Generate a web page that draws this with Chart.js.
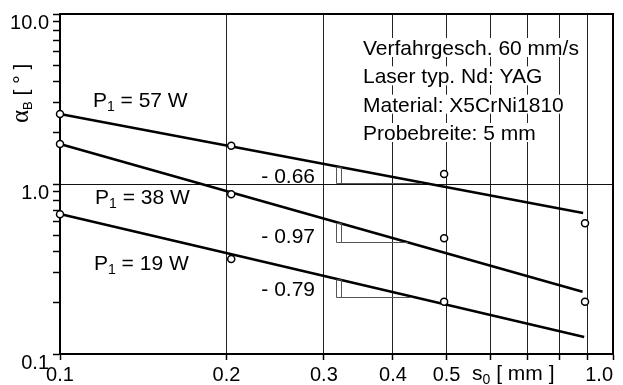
<!DOCTYPE html>
<html><head><meta charset="utf-8">
<script src="https://cdn.jsdelivr.net/npm/chart.js@4/dist/chart.umd.min.js"></script>
<style>html,body{margin:0;padding:0;background:#fff}canvas{display:block}</style>
</head><body>
<canvas id="c" width="623" height="385" style="width:623px;height:385px"></canvas>
<script>
// ---------------- data ----------------
const measX = [0.1, 0.204, 0.495, 0.89];          // s0 [mm]
const values57 = [2.58, 1.68, 1.145, 0.587];       // alpha_B [deg], P1 = 57 W
const values38 = [1.72, 0.87, 0.479, 0.203];       // P1 = 38 W
const values19 = [0.664, 0.362, 0.203];            // P1 = 19 W
const fitX57 = [0.1, 0.883]; const fitY57 = [2.58, 0.675];
const fitX38 = [0.1, 0.881]; const fitY38 = [1.72, 0.2325];
const fitX19 = [0.1, 0.887]; const fitY19 = [0.666, 0.126];
const seriesNames = ['57 W', '38 W', '19 W'];
const slopeTexts = ['- 0.66', '- 0.97', '- 0.79'];
const xTickValues = [0.1, 0.2, 0.3, 0.4, 0.5, 0.6, 0.7, 0.8, 0.9, 1.0];
const xTickLabels = ['0.1', '0.2', '0.3', '0.4', '0.5', '', '', '', '', '1.0'];
const yTickValues = [0.1,0.2,0.3,0.4,0.5,0.6,0.7,0.8,0.9,1,2,3,4,5,6,7,8,9,10];
const yTickLabels = ['0.1','','','','','','','','','1.0','','','','','','','','','10.0'];
const infoLines = ['Verfahrgesch. 60 mm/s', 'Laser typ. Nd: YAG', 'Material: X5CrNi1810', 'Probebreite: 5 mm'];

// ---------------- annotation placement (data coordinates) ----------------
const nameAnchors = [[0.1147, 2.838], [0.1157, 0.763], [0.1152, 0.312]];
const slopeAnchors = [[0.2892, 1.0136], [0.2892, 0.4516], [0.2892, 0.2203]];
const slopeTriX = [[0.322, 0.452], [0.322, 0.426], [0.322, 0.433]];
const infoAnchor = [0.3531, [5.74, 3.912, 2.663, 1.815]];
const xTitleX = 0.556;
const yTitleY = 3.67;

const FONT = '"Liberation Sans", Arial, Helvetica, sans-serif';
const pts = (xs, ys) => ys.map((v, i) => ({x: xs[i], y: v}));
const fits = [[fitX57, fitY57], [fitX38, fitY38], [fitX19, fitY19]];

function fitAt(k, xv) {
  const [fx, fy] = fits[k];
  const t = (Math.log10(xv) - Math.log10(fx[0])) / (Math.log10(fx[1]) - Math.log10(fx[0]));
  return Math.pow(10, Math.log10(fy[0]) + t * (Math.log10(fy[1]) - Math.log10(fy[0])));
}

function drawRich(ctx, x, yb, parts) {
  let cx = x;
  for (const [t, size, dy, fam] of parts) {
    ctx.font = size + 'px ' + (fam || FONT);
    ctx.fillText(t, cx, yb + dy);
    cx += ctx.measureText(t).width;
  }
  return cx - x;
}

const annot = {
  id: 'annot',
  afterDatasetsDraw(chart) {
    const {ctx, chartArea: a, scales: {x, y}} = chart;
    ctx.save();
    // frame top/right
    ctx.strokeStyle = '#000'; ctx.lineWidth = 2;
    ctx.beginPath(); ctx.moveTo(a.left, a.top); ctx.lineTo(a.right, a.top); ctx.lineTo(a.right, a.bottom); ctx.stroke();

    // slope triangles
    ctx.strokeStyle = '#555'; ctx.lineWidth = 1;
    slopeTriX.forEach(([x1, x2], k) => {
      const p1 = Math.round(x.getPixelForValue(x1)) + 0.5, p2 = x.getPixelForValue(x2);
      const top = y.getPixelForValue(fitAt(k, x1));
      const bot = Math.round(y.getPixelForValue(fitAt(k, x2))) + 0.5;
      ctx.beginPath();
      ctx.moveTo(p1, top); ctx.lineTo(p1, bot);
      ctx.moveTo(p1 - 5, top); ctx.lineTo(p1, top);
      ctx.moveTo(p1 - 5, top); ctx.lineTo(p1 - 5, bot); ctx.lineTo(p2, bot);
      ctx.stroke();
    });

    ctx.fillStyle = '#000';
    ctx.textBaseline = 'alphabetic';
    ctx.textAlign = 'left';
    // series names
    seriesNames.forEach((n, k) => {
      const [ax, ay] = nameAnchors[k];
      drawRich(ctx, x.getPixelForValue(ax), y.getPixelForValue(ay), [['P', 21, 0], ['1', 14, 4], [' = ' + n, 21, 0]]);
    });
    // slope labels
    ctx.textAlign = 'right';
    ctx.font = '21px ' + FONT;
    slopeTexts.forEach((s, k) => {
      const [ax, ay] = slopeAnchors[k];
      ctx.fillText(s, x.getPixelForValue(ax), y.getPixelForValue(ay));
    });
    ctx.textAlign = 'left';
    // info block with white background
    const ix = x.getPixelForValue(infoAnchor[0]);
    infoLines.forEach((t, i) => {
      const yb = y.getPixelForValue(infoAnchor[1][i]);
      ctx.font = '21px ' + FONT;
      const w = ctx.measureText(t).width;
      ctx.fillStyle = '#fff';
      ctx.fillRect(ix - 2, yb - 17, w + 4, 19);
      ctx.fillStyle = '#000';
      ctx.fillText(t, ix, yb);
    });
    // x axis title
    drawRich(ctx, x.getPixelForValue(xTitleX), a.bottom + 26, [['s', 21, 0], ['0', 14, 4], [' [ mm ]', 21, 0]]);
    // y axis title (rotated)
    ctx.translate(28, y.getPixelForValue(yTitleY) + 35);
    ctx.rotate(-Math.PI / 2);
    drawRich(ctx, 0, 0, [['\u03B1', 25, 0, '"Liberation Serif", "DejaVu Serif", serif'], ['B', 13, 4], [' [ \u00B0 ]', 21, 0]]);
    ctx.restore();
  }
};

const pointStyle = {showLine: false, clip: false, pointRadius: 3.5, pointHoverRadius: 3.5, pointBackgroundColor: '#fff', pointBorderColor: '#000', pointBorderWidth: 1.5, order: 0};
const lineStyle = {showLine: true, clip: false, pointRadius: 0, borderColor: '#000', borderWidth: 2.5, fill: false, order: 1};

new Chart(document.getElementById('c'), {
  type: 'scatter',
  data: {datasets: [
    {label: seriesNames[0], data: pts(measX, values57), ...pointStyle},
    {label: seriesNames[1], data: pts(measX, values38), ...pointStyle},
    {label: seriesNames[2], data: pts(measX, values19), ...pointStyle},
    {label: 'fit 57', data: pts(fitX57, fitY57), ...lineStyle},
    {label: 'fit 38', data: pts(fitX38, fitY38), ...lineStyle},
    {label: 'fit 19', data: pts(fitX19, fitY19), ...lineStyle}
  ]},
  options: {
    responsive: false, animation: false, devicePixelRatio: 1,
    layout: {padding: {top: 14, right: 10, left: 0, bottom: 0}},
    plugins: {legend: {display: false}, tooltip: {enabled: false}},
    scales: {
      x: {
        type: 'logarithmic', min: 0.1, max: 1.0, position: 'bottom',
        afterBuildTicks: s => { s.ticks = xTickValues.map(v => ({value: v})); },
        afterFit: s => { s.height = 31; s.paddingLeft = 0; s.paddingRight = 0; },
        ticks: {
          autoSkip: false, maxRotation: 0, minRotation: 0, padding: 3, color: '#000',
          font: {family: FONT, size: 20},
          callback: (v, i) => (i === xTickValues.length - 1 ? xTickLabels[i] + '     ' : xTickLabels[i])
        },
        grid: {
          color: c => (c.tick && c.tick.value > 0.15 && c.tick.value < 0.95 ? '#222' : 'rgba(0,0,0,0)'),
          tickColor: '#000', tickLength: 6, lineWidth: 1, tickWidth: 1.5
        },
        border: {display: true, color: '#000', width: 2}
      },
      y: {
        type: 'logarithmic', min: 0.1, max: 10, position: 'left',
        afterBuildTicks: s => { s.ticks = yTickValues.map(v => ({value: v})); },
        afterFit: s => { s.width = 60; s.paddingTop = 0; s.paddingBottom = 0; },
        ticks: {
          autoSkip: false, padding: 4, labelOffset: 9, color: '#000',
          font: {family: FONT, size: 20},
          callback: (v, i) => yTickLabels[i]
        },
        grid: {
          color: c => (c.tick && Math.abs(c.tick.value - 1) < 1e-9 ? '#111' : 'rgba(0,0,0,0)'),
          tickColor: '#000', tickLength: 7, lineWidth: 1, tickWidth: 1.5
        },
        border: {display: true, color: '#000', width: 2}
      }
    }
  },
  plugins: [annot]
});
</script>
</body></html>
